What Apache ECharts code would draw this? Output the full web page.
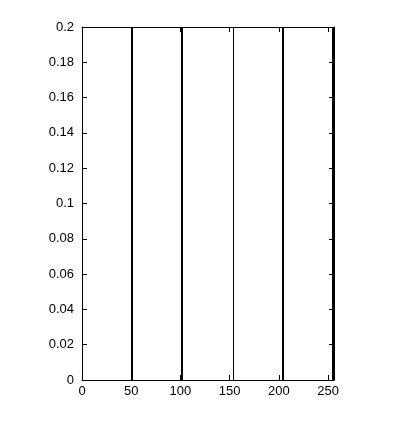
<!DOCTYPE html>
<html><head><meta charset="utf-8">
<script src="https://cdn.jsdelivr.net/npm/echarts@6/dist/echarts.min.js"></script>
<style>html,body{margin:0;padding:0;background:#fff}#c{width:414px;height:432px}</style>
</head><body><div id="c"></div>
<script>
// Gray levels present (stems) and their normalized counts (clipped above 0.2)
const levels = [51, 102, 153, 204, 255];
const counts = [0.23, 0.24, 0.22, 0.24, 0.23];
const xTicks = [0, 50, 100, 150, 200, 250];
const yTicks = [0, 0.02, 0.04, 0.06, 0.08, 0.1, 0.12, 0.14, 0.16, 0.18, 0.2];

const font = '"Liberation Sans Narrow", "Liberation Sans", sans-serif';
const chart = echarts.init(document.getElementById('c'), null, {renderer: 'canvas'});
const axisCommon = {
  axisLine: {show: true, onZero: false, lineStyle: {color: '#000', width: 1}},
  axisTick: {show: true, inside: true, length: 5, lineStyle: {color: '#000'}},
  splitLine: {show: false}
};
chart.setOption({
  animation: false,
  backgroundColor: '#fff',
  grid: {left: 82, right: 80, top: 27, bottom: 52, containLabel: false},
  xAxis: [
    Object.assign({type: 'value', min: 0, max: 256, interval: 50, position: 'bottom',
      axisLabel: {color: '#000', fontFamily: font, fontSize: 13, margin: 5,
        showMaxLabel: false, formatter: v => xTicks.includes(v) ? String(v) : ''}}, axisCommon),
    Object.assign({type: 'value', min: 0, max: 256, interval: 50, position: 'top',
      axisLabel: {show: false}}, axisCommon)
  ],
  yAxis: [
    Object.assign({type: 'value', min: 0, max: 0.2, interval: 0.02, position: 'left',
      axisLabel: {color: '#000', fontFamily: font, fontSize: 13, margin: 8,
        formatter: v => { const t = yTicks.find(y => Math.abs(y - v) < 1e-9); return t === undefined ? '' : String(t); }}}, axisCommon),
    Object.assign({type: 'value', min: 0, max: 0.2, interval: 0.02, position: 'right',
      axisLabel: {show: false}}, axisCommon)
  ],
  series: [{
    type: 'custom',
    xAxisIndex: 0, yAxisIndex: 0,
    clip: true,
    data: levels.map((l, i) => [l, counts[i]]),
    renderItem: function (params, api) {
      const p0 = api.coord([api.value(0), 0]);
      const p1 = api.coord([api.value(0), api.value(1)]);
      const lw = api.value(0) === 153 ? 1 : 2;
      const x = lw === 1 ? Math.round(p0[0]) + 0.5 : Math.round(p0[0]);
      const top = Math.max(p1[1], params.coordSys.y);
      return {type: 'line', shape: {x1: x, y1: p0[1], x2: x, y2: top},
        style: {stroke: '#000', lineWidth: lw}};
    }
  }]
});
</script></body></html>
